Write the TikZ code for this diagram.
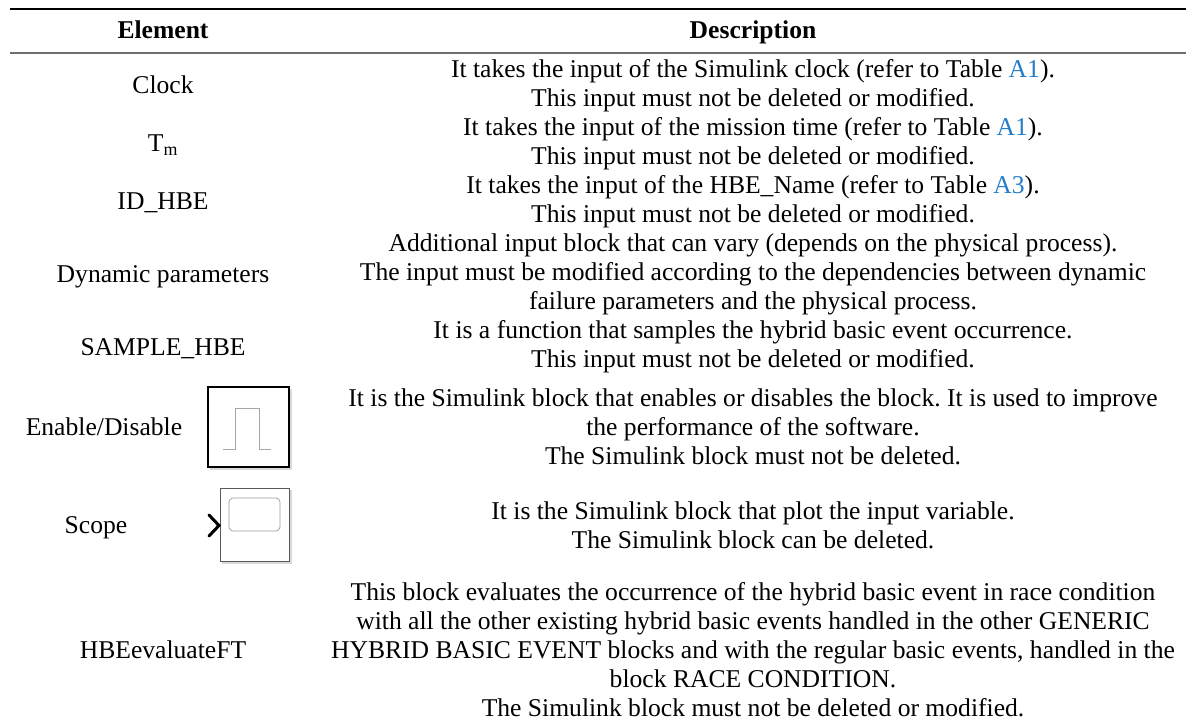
\documentclass[tikz,border=0pt]{standalone}
\usepackage{fontspec}
\setmainfont{Liberation Serif}
\usepackage{tikz}
\definecolor{linkblue}{RGB}{35, 125, 200}
\definecolor{rulegray}{RGB}{110, 110, 110}
\frenchspacing
\tikzset{
    cell/.style={font=\fontsize{25.6}{29}\selectfont, inner sep=0pt, align=center},
    elemcell/.style={cell, anchor=base},
    headcell/.style={cell, anchor=base, font=\fontsize{25.6}{29}\selectfont\bfseries},
}
\newcommand{\tabref}[1]{\textcolor{linkblue}{#1}}

\begin{document}
\begin{tikzpicture}[x=1pt, y=-1pt]
            \useasboundingbox (0,0) rectangle (1186,722);
            % Rules
            \draw[black, line width=2.2pt]                                    (10, 9) -- (1186, 9);
            \draw[rulegray, line width=1.6pt]                                 (10,53) -- (1186,53);
            % Header
            \node[headcell] (elemHead) at (163, 39) {Element};
            \node[headcell] (descHead) at (753, 39) {Description};
            % Clock
            \node[elemcell] (clockName) at (163, 94) {Clock};
            \node[cell] (clockDesc) at (753, 86) {It takes the input of the Simulink clock (refer to Table \tabref{A1}).\\
                 This input must not be deleted or modified.};
            % Mission time
            \node[elemcell] (tmName) at (163,152) {T\textsubscript{m}};
            \node[cell] (tmDesc) at (753,144) {It takes the input of the mission time (refer to Table \tabref{A1}).\\
                 This input must not be deleted or modified.};
            % ID_HBE
            \node[elemcell] (idName) at (163,210) {ID\_HBE};
            \node[cell] (idDesc) at (753,202) {It takes the input of the HBE\_Name (refer to Table \tabref{A3}).\\
                 This input must not be deleted or modified.};
            % Dynamic parameters
            \node[elemcell] (dynName) at (163,282.5) {Dynamic parameters};
            \node[cell] (dynDesc) at (753,274.5) {Additional input block that can vary (depends on the physical process).\\
                 The input must be modified according to the dependencies between dynamic\\
                 failure parameters and the physical process.};
            % SAMPLE_HBE
            \node[elemcell] (sampleName) at (163,355) {SAMPLE\_HBE};
            \node[cell] (sampleDesc) at (753,347) {It is a function that samples the hybrid basic event occurrence.\\
                 This input must not be deleted or modified.};
            % Enable/Disable
            \node[elemcell] (enableName) at (104,435) {Enable/Disable};
            \node[cell] (enableDesc) at (753,427) {It is the Simulink block that enables or disables the block. It is used to improve\\
                 the performance of the software.\\
                 The Simulink block must not be deleted.};
            \draw[black!15, line width=1.5pt]                                 (210,469) -- (291,469) -- (291,389);
            \draw[black, line width=1.5pt]                                    (208,387) rectangle (289,467);
            \draw[gray!70, line width=0.8pt]                                  (223,449) -- (235,449) -- (235,408)
                 -- (259,408) -- (259,449) -- (271,449);
            % Scope
            \node[elemcell] (scopeName) at (96,533) {Scope};
            \node[cell] (scopeDesc) at (753,525) {It is the Simulink block that plot the input variable.\\
                 The Simulink block can be deleted.};
            \draw[black!15, line width=1.2pt]                                 (222,563) -- (291,563) -- (291,490);
            \draw[black!65, line width=1pt]                                   (220,488) rectangle (289,561);
            \draw[gray!80, line width=0.7pt, rounded corners=4pt]             (229,498) rectangle (280,531);
            \draw[black, line width=3pt, line cap=round]                      (209,515) -- (219,525.5) -- (209,536);
            % HBEevaluateFT
            \node[elemcell] (evalName) at (163,658) {HBEevaluateFT};
            \node[cell] (evalDesc) at (753,650) {This block evaluates the occurrence of the hybrid basic event in race condition\\
                 with all the other existing hybrid basic events handled in the other GENERIC\\
                 HYBRID BASIC EVENT blocks and with the regular basic events, handled in the\\
                 block RACE CONDITION.\\
                 The Simulink block must not be deleted or modified.};
\end{tikzpicture}
\end{document}
